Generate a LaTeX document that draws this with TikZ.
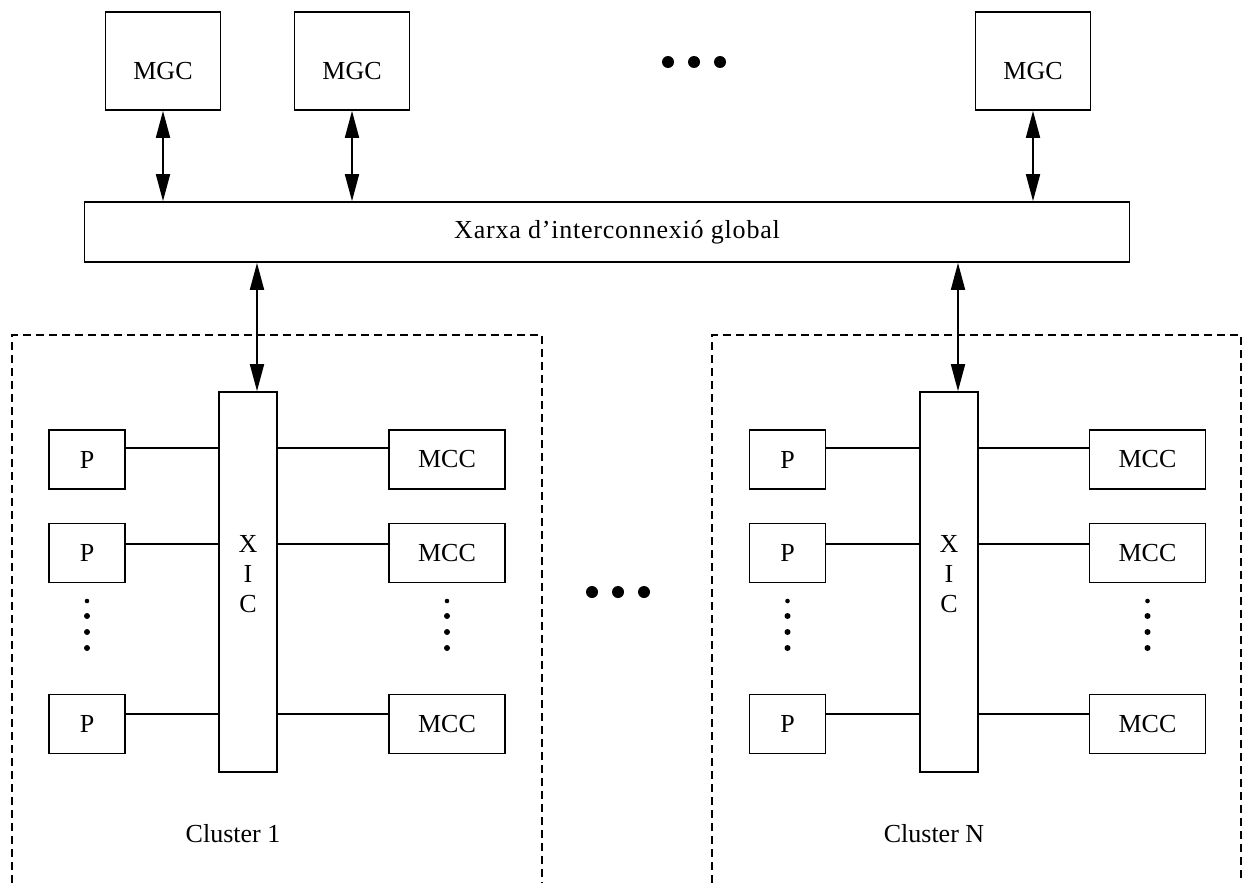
\documentclass[tikz,border=0pt]{standalone}
\usepackage{fontspec}
\setmainfont{Liberation Serif}
\usetikzlibrary{arrows.meta,calc}
\begin{document}
\begin{tikzpicture}[x=1pt,y=-1pt,
  box/.style={draw,line width=1.7pt,rectangle,inner sep=0pt,font=\fontsize{26}{30}\selectfont},
  mgc/.style={box,minimum width=115pt,minimum height=98pt},
  pbox/.style={box,minimum width=76pt,minimum height=59pt},
  mcc/.style={box,minimum width=116pt,minimum height=59pt},
  xic/.style={box,minimum width=58pt,minimum height=380pt},
  net/.style={box,minimum width=1045pt,minimum height=60pt},
  biarrow/.style={line width=1.8pt,{Triangle[length=27pt,width=14pt]}-{Triangle[length=27pt,width=14pt]}},
  link/.style={line width=1.4pt},
  clusterbox/.style={line width=2pt,dash pattern=on 8pt off 5pt},
  lbl/.style={font=\fontsize{26}{30}\selectfont,inner sep=0pt},
  bigdot/.style={fill=black}
]
\useasboundingbox (0,0) rectangle (1247,883);

% top level
\node[mgc] (mgc1) at (163,61) {\raisebox{-10pt}[\height][\depth]{MGC}};
\node[mgc] (mgc2) at (352,61) {\raisebox{-10pt}[\height][\depth]{MGC}};
\node[mgc] (mgc3) at (1033,61) {\raisebox{-10pt}[\height][\depth]{MGC}};
\node[net] (net) at (607,232) {\hspace*{20pt}\addfontfeature{LetterSpace=3}Xarxa d’interconnexió global};

\foreach \i in {1,2,3}{
  \draw[biarrow] (mgc\i.south) -- (mgc\i.south |- net.north);
}

\foreach \x in {668,694,720}{ \fill[bigdot] (\x,62) circle (6pt); }
\foreach \x in {592,618,644}{ \fill[bigdot] (\x,592) circle (6pt); }

% cluster frames
\draw[clusterbox] (12,883) -- (12,335) -- (542,335) -- (542,883);
\draw[clusterbox] (712,883) -- (712,335) -- (1241,335) -- (1241,883);

\foreach \c/\px/\xx/\mx/\cl/\cx in {L/87/248/447/1/233, R/787.5/949/1147.5/N/934}{
  \node[xic] (xic\c) at (\xx,582) {};
  \node[lbl,align=center] (xict\c) at (\xx,574) {X\\I\\C};
  \coordinate (top\c) at ($(xic\c.north)+(9,0)$);
  \draw[biarrow] (net.south -| top\c) -- (top\c);
  \foreach \r/\yc/\yl in {1/459.5/448, 2/553/544, 3/724/714}{
    \node[pbox] (p\c\r) at (\px,\yc) {P};
    \node[mcc] (m\c\r) at (\mx,\yc) {MCC};
    \coordinate (y\c\r) at (0,\yl);
    \draw[link] (p\c\r.east |- y\c\r) -- (xic\c.west |- y\c\r);
    \draw[link] (xic\c.east |- y\c\r) -- (m\c\r.west |- y\c\r);
  }
  \foreach \x in {\px,\mx}{
    \fill (\x,601) circle (2.3pt);
    \fill (\x,616) circle (3pt);
    \fill (\x,632) circle (3pt);
    \fill (\x,648) circle (3pt);
  }
  \node[lbl] (cl\c) at (\cx,834) {Cluster \cl};
}
\end{tikzpicture}
\end{document}
